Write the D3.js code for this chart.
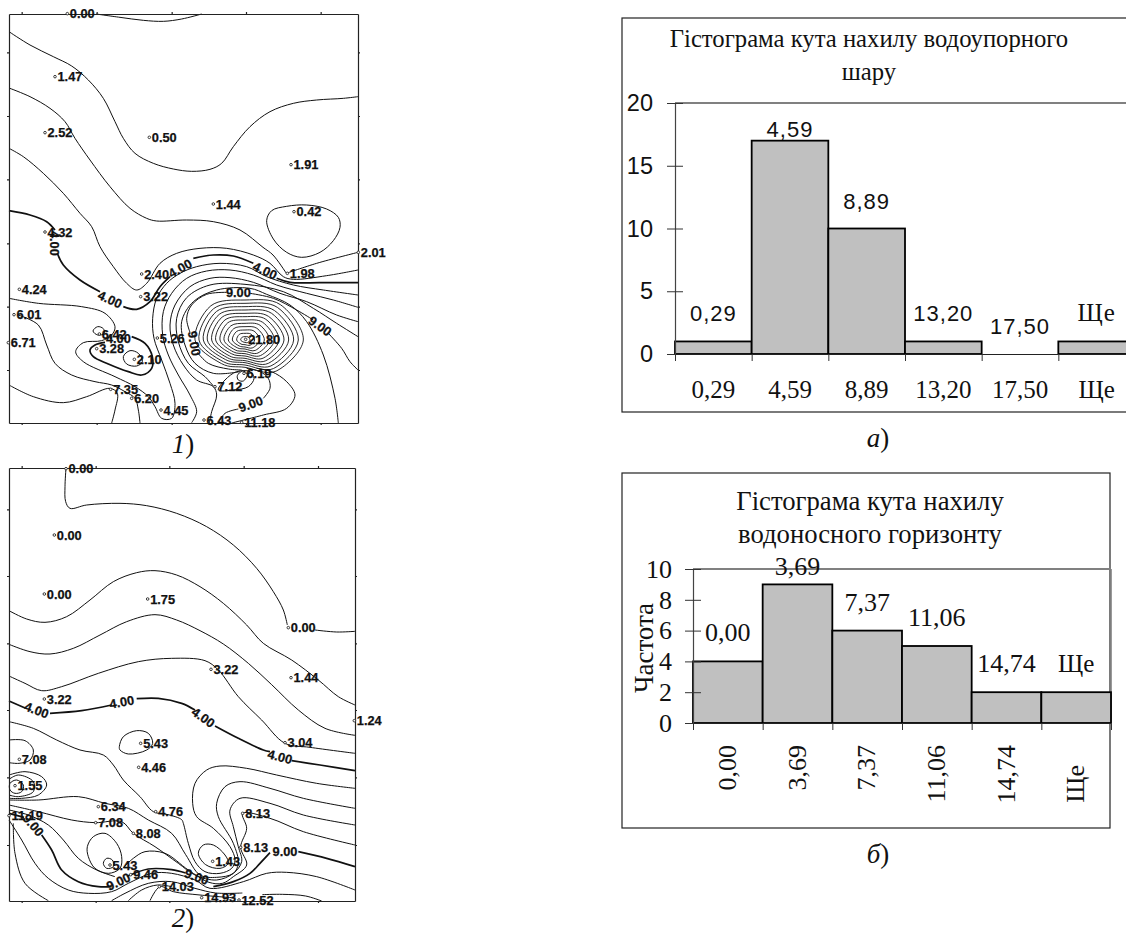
<!DOCTYPE html>
<html lang="en">
<head>
    <meta charset="UTF-8">
    <title>Гістограма</title>
    <script src="https://d3js.org/d3.v7.min.js"></script>
    <style>
        body {margin: 0; background: #fff;}
        svg {display: block;}
        .contour {fill: none; stroke: #111; stroke-width: 1;}
        .bold {stroke-width: 1.7;}
        .maplabel {font-family: "Liberation Sans", sans-serif; font-weight: bold; font-size: 12.8px; fill: #111; stroke: #111; stroke-width: .25px;}
        .serif {font-family: "Liberation Serif", serif; fill: #111;}
        .sans {font-family: "Liberation Sans", sans-serif; fill: #111;}
    </style>
</head>
<body>
<script>
    // map units are arbitrary sheet units, the frame is 1047 x 1227 (map 1) and 1038 x 1299 (map 2)
    const map1Ticks = {x: [38, 263, 488, 711, 935], y: [115, 306, 496, 688, 878, 1068]};
    const map2Ticks = {x: [38, 260, 481, 704, 927], y: [124, 324, 526, 726, 928, 1131]};

    const map1Lines = [
        [[261,0],[333,10],[403,19],[463,22],[518,15],[578,0]],
        [[0,53],[63,93],[133,128],[188,156],[238,198],[283,253],[318,323],[343,373],[378,418],[433,448],[493,465],[548,472],[603,466],[638,448],[673,398],[723,338],[783,293],[853,268],[923,258],[1003,253],[1047,248]],
        [[0,222],[63,248],[123,283],[168,323],[198,373],[243,438],[303,518],[363,583],[413,613],[443,621],[533,618],[613,623],[693,648],[762,700],[792,723],[832,778]],
        [[832,778],[923,748],[1047,715]],
        [[0,403],[43,428],[103,478],[163,538],[213,598],[248,638],[273,698],[313,758],[353,808],[383,828],[413,808],[453,748],[503,718],[573,703],[653,703],[733,723],[783,748],[823,788],[853,796],[953,785],[1047,768]],
        // big line round the 3.28 / 2.10 hollow and over the peak
        [[0,853],[88,868],[218,878],[288,898],[318,938],[308,963],[278,980],[223,986],[200,1013],[223,1043],[318,1088],[378,1118],[418,1148],[438,1178],[458,1213],[488,1213],[498,1168],[483,1108],[458,1038],[435,973],[431,913],[443,853],[473,808],[513,778],[563,758],[633,748],[713,758],[773,788],[853,813],[943,828],[1047,843]],
        [[548,1226],[563,1193],[543,1143],[508,1083],[478,1023],[461,963],[463,893],[488,838],[533,793],[593,771],[663,768],[733,783],[803,813],[893,838],[973,858],[1047,880]],
        [[601,1227],[608,1193],[623,1143],[613,1118],[563,1098],[523,1053],[493,993],[483,933],[498,873],[543,818],[603,793],[663,791],[733,805],[813,838],[893,863],[983,903],[1047,923]],
        [[1047,968],[983,928],[913,883],[823,833],[708,811],[603,813],[533,851],[503,913],[508,983],[538,1048],[588,1088],[613,1116]],
        [[988,1227],[978,1153],[943,1023],[893,923],[843,873],[773,841],[723,823],[623,828],[553,863],[518,923],[528,993],[558,1048],[613,1078],[693,1073]],
        // 9.00 round the peak, broken at its labels
        [[543,955],[533,913],[548,873],[593,841],[653,835]],
        [[723,838],[793,853],[863,888],[913,918]],
        [[958,958],[998,1003],[1023,1043],[1047,1068]],
        [[565,1015],[598,1048],[658,1065],[698,1068]],
        // south of the peak
        [[628,1227],[648,1198],[688,1185]],
        [[763,1153],[783,1123],[778,1093],[753,1073],[713,1063]],
        [[668,1227],[763,1203],[833,1183],[858,1143],[833,1103],[788,1073],[743,1063]],
        // lower left
        [[28,903],[88,933],[113,993],[138,1048],[188,1083],[258,1103],[308,1113],[348,1133],[378,1153],[388,1188],[393,1227]],
        [[0,1113],[73,1148],[163,1166],[233,1148],[303,1123],[325,1138],[318,1188],[308,1227]]
    ];
    const map1Bold = [
        [[0,590],[63,603],[113,623],[138,648]],
        [[145,718],[163,753],[213,798],[273,833]],
        [[343,878],[383,886],[423,863],[453,818],[483,788]],
        [[553,733],[613,723],[673,726],[733,748]],
        [[803,793],[843,805],[933,806],[1047,806]],
        [[368,968],[408,988],[430,1028],[428,1063],[398,1083],[358,1073],[298,1050],[253,1028],[243,1008],[258,993],[288,985]]
    ];
    const map1Closed = [
        [[773,620],[788,590],[833,577],[893,573],[953,585],[988,610],[993,640],[973,680],[933,715],[878,730],[833,715],[793,675]],
        [[252,951],[266,938],[283,944],[286,958],[266,963]],
        [[343,1028],[363,1010],[388,1018],[400,1043],[383,1056],[353,1050]],
        [[685,1085],[701,1071],[715,1081],[703,1101],[688,1098]],
        [[628,1128],[673,1128],[718,1118],[735,1093],[723,1073],[683,1073],[648,1098]]
    ];
    // distances from the 21.80 peak read along N, NE, E, SE, S, SW, W, NW
    const peakCentre = [708, 978];
    const peakRings = [
        [120,150,175,132,82,100,150,145],
        [110,138,160,121,75,92,138,133],
        [100,125,146,110,68,83,125,121],
        [90,113,131,99,62,75,113,109],
        [80,100,117,88,55,67,100,97],
        [70,88,102,77,48,58,88,85],
        [60,75,88,66,41,50,75,73],
        [50,63,73,55,34,42,63,60],
        [40,50,58,44,27,33,50,48],
        [30,38,44,33,21,25,38,36],
        [20,25,29,22,14,17,25,24],
        [10,13,15,11,7,8,13,12]
    ];
    const map1Points = [
        [175,-1,"0.00"],[138,188,"1.47"],[108,356,"2.52"],[421,370,"0.50"],[846,452,"1.91"],[613,570,"1.44"],[855,593,"0.42"],
        [108,654,"4.32"],[398,780,"2.40"],[395,848,"3.22"],[31,826,"4.24"],[15,902,"6.01"],[-2,986,"6.71"],[271,960,"6.42"],
        [263,1004,"3.28"],[376,1036,"2.10"],[445,972,"5.26"],[710,976,"21.80"],[705,1078,"6.19"],[618,1118,"7.12"],
        [305,1126,"7.35"],[368,1153,"6.20"],[456,1188,"4.45"],[585,1218,"6.43"],[698,1225,"11.18"],[835,778,"1.98"],[1048,715,"2.01"]
    ];
    const map1Labels = [
        [303,856,"4.00",25],[513,763,"4.00",-30],[768,770,"4.00",25],[138,688,"4.00",90],[328,973,"4.00",0],
        [688,836,"9.00",0],[933,936,"9.00",35],[556,988,"9.00",80],[725,1170,"9.00",-20]
    ];

    const map2Lines = [
        [[171,0],[168,56],[170,101],[183,121],[233,111],[333,106],[413,113],[503,136],[593,176],[673,231],[743,301],[793,371],[823,426],[835,471]],
        [[918,486],[983,492],[1038,490]],
        [[0,428],[53,453],[108,463],[173,446],[243,396],[313,341],[383,314],[438,308],[503,321],[573,356],[643,406],[713,471],[763,526],[848,576],[928,636],[988,686],[1038,711]],
        [[0,529],[63,551],[123,558],[193,541],[273,501],[353,461],[438,440],[503,456],[573,488],[643,528],[718,586],[788,650],[868,726],[948,781],[1038,802]],
        [[0,624],[48,646],[98,668],[158,656],[268,616],[388,581],[488,571],[588,578],[628,606],[688,686],[758,756],[828,826],[903,838],[1038,856]],
        // lines that dip round the 1.43 hollow
        [[0,761],[73,781],[143,816],[213,846],[283,861],[313,891],[343,936],[393,986],[433,1031],[478,1040],[518,1055],[523,1066],[538,1126],[558,1181],[588,1211],[633,1216],[668,1201],[678,1176],[663,1136],[613,1081],[563,1046],[551,1006],[558,946],[593,906],[633,894],[713,901],[803,921],[923,946],[1038,961]],
        [[0,996],[88,996],[208,986],[288,1006],[358,1021],[418,1056],[488,1096],[530,1160],[573,1221],[623,1228],[673,1216],[688,1186],[673,1126],[628,1046],[623,1006],[648,956],[693,941],[783,961],[883,991],[1038,1021]],
        [[0,1011],[88,1031],[188,1056],[258,1064],[338,1061],[373,1096],[438,1136],[508,1186],[558,1221],[623,1236],[673,1216],[698,1181],[688,1136],[673,1076],[663,1026],[693,991],[783,1006],[883,1041],[1038,1071]],
        [[0,1026],[58,1041],[118,1071],[163,1116],[208,1171],[263,1206],[318,1226]],
        [[342,1200],[373,1171],[408,1151],[468,1156],[538,1206],[600,1243],[640,1246],[673,1226],[713,1191],[695,1138],[713,1081],[701,1036],[783,1051],[883,1091],[1038,1131]],
        [[0,1056],[38,1116],[78,1186],[118,1231],[178,1266],[238,1276],[308,1271],[358,1246],[428,1216],[488,1216],[558,1236],[603,1261],[703,1241],[773,1216],[833,1213],[923,1226],[1038,1266]],
        [[13,1066],[18,1156],[48,1246],[118,1298]],
        [[308,1298],[348,1276],[418,1246],[488,1241],[558,1261],[620,1275],[700,1275]],
        [[358,1298],[398,1266],[445,1251],[488,1256]],
        [[423,1298],[453,1256],[493,1271],[573,1281],[680,1290]],
        [[938,1299],[890,1284],[820,1279],[760,1280]],
        // arcs on the left edge
        [[0,816],[48,818],[73,846],[63,876],[30,886],[0,884]],
        [[0,921],[48,911],[98,926],[113,951],[88,981],[38,991],[0,991]],
        [[0,934],[28,921],[73,941],[73,971],[28,986],[0,981]]
    ];
    const map2Bold = [
        [[0,699],[50,721]],
        [[123,736],[218,728],[308,711]],
        [[383,692],[448,691],[518,706],[558,726]],
        [[618,774],[688,811],[763,846],[783,851]],
        [[848,878],[933,891],[1038,908]],
        [[0,1036],[45,1048]],
        [[98,1101],[128,1146],[158,1206],[208,1241],[268,1256],[308,1256]],
        [[355,1225],[418,1203],[488,1205],[530,1215]],
        [[613,1256],[673,1241],[723,1216],[753,1186],[783,1154]],
        [[868,1151],[953,1171],[1038,1196]]
    ];
    const map2Closed = [
        [[331,836],[343,806],[383,788],[418,796],[431,826],[413,846],[358,858],[333,846]],
        [[235,1136],[253,1106],[288,1096],[323,1126],[338,1166],[333,1201],[298,1216],[258,1201],[238,1166]],
        [[283,1186],[293,1171],[310,1176],[313,1196],[293,1201]],
        [[568,1156],[583,1131],[613,1131],[648,1161],[658,1186],[633,1201],[590,1190]],
        [[3,946],[23,936],[43,951],[38,971],[18,976],[3,966]]
    ];
    const map2Points = [
        [171,2,"0.00"],[136,201,"0.00"],[106,378,"0.00"],[416,393,"1.75"],[838,479,"0.00"],[606,604,"3.22"],[846,629,"1.44"],
        [106,693,"3.22"],[1036,758,"1.24"],[395,826,"5.43"],[31,874,"7.08"],[389,898,"4.46"],[828,824,"3.04"],[18,953,"1.55"],
        [268,1016,"6.34"],[440,1031,"4.76"],[701,1036,"8.13"],[0,1043,"11.19"],[260,1064,"7.08"],[373,1096,"8.08"],
        [695,1138,"8.13"],[303,1191,"5.43"],[611,1180,"1.43"],[365,1220,"9.46"],[451,1256,"14.03"],[578,1289,"14.93"],[690,1296,"12.52"]
    ];
    const map2Labels = [
        [83,726,"4.00",20],[338,702,"4.00",-10],[583,748,"4.00",35],[813,866,"4.00",15],
        [73,1071,"9.00",50],[328,1241,"9.00",-25],[563,1226,"9.00",20],[828,1151,"9.00",0]
    ];

    // histograms
    const binsA = ["0,29", "4,59", "8,89", "13,20", "17,50", "Ще"];
    const countsA = [1, 17, 10, 1, 0, 1];
    const binsB = ["0,00", "3,69", "7,37", "11,06", "14,74", "Ще"];
    const countsB = [4, 9, 6, 5, 2, 2];

    const svg = d3.select("body").append("svg").attr("width", 1126).attr("height", 935);

    function drawMap(box, domain, ticks, lines, bold, closed, points, labels) {
        const x = d3.scaleLinear().domain([0, domain[0]]).range([box.x, box.x + box.w]);
        const y = d3.scaleLinear().domain([0, domain[1]]).range([box.y, box.y + box.h]);
        const g = svg.append("g");
        const open = d3.line().x(d => x(d[0])).y(d => y(d[1])).curve(d3.curveCatmullRom.alpha(0.5));
        const loop = d3.line().x(d => x(d[0])).y(d => y(d[1])).curve(d3.curveCatmullRomClosed.alpha(0.5));

        g.selectAll("path.thin").data(lines).enter().append("path")
                .attr("class", "contour thin").attr("d", open);
        g.selectAll("path.bold").data(bold).enter().append("path")
                .attr("class", "contour bold").attr("d", open);
        g.selectAll("path.loop").data(closed).enter().append("path")
                .attr("class", "contour loop").attr("d", loop);

        // frame and its small ticks
        const axes = [
            [d3.axisTop(x).tickValues(ticks.x), `translate(0,${box.y})`],
            [d3.axisBottom(x).tickValues(ticks.x), `translate(0,${box.y + box.h})`],
            [d3.axisLeft(y).tickValues(ticks.y), `translate(${box.x},0)`],
            [d3.axisRight(y).tickValues(ticks.y), `translate(${box.x + box.w},0)`]
        ];
        axes.forEach(a => {
            const ag = g.append("g").attr("transform", a[1])
                    .call(a[0].tickSize(2).tickSizeOuter(0).tickFormat(""));
            ag.selectAll("path,line").style("stroke", "#222").style("stroke-width", 1.2);
        });

        const pt = g.selectAll("g.pt").data(points).enter().append("g").attr("class", "pt")
                .attr("transform", d => `translate(${x(d[0])},${y(d[1])})`);
        pt.append("circle").attr("r", 1.3).style("fill", "#fff").style("stroke", "#111").style("stroke-width", .8);
        pt.append("text").attr("class", "maplabel").attr("x", 2.5).attr("dy", ".36em").text(d => d[2]);

        g.selectAll("text.cl").data(labels).enter().append("text")
                .attr("class", "maplabel cl")
                .attr("text-anchor", "middle").attr("dy", ".36em")
                .attr("transform", d => `translate(${x(d[0])},${y(d[1])}) rotate(${d[3]})`)
                .text(d => d[2]);
        return {x, y, g};
    }

    const m1 = drawMap({x: 9, y: 14, w: 349, h: 409}, [1047, 1227], map1Ticks, map1Lines, map1Bold, map1Closed, map1Points, map1Labels);
    drawMap({x: 9, y: 468, w: 346, h: 433}, [1038, 1299], map2Ticks, map2Lines, map2Bold, map2Closed, map2Points, map2Labels);

    // peak rings of map 1, radii go through the same sheet scale
    const radius = d3.scaleLinear().domain([0, 1047]).range([0, 349]);
    const ringAngle = d3.scaleLinear().domain([0, 8]).range([0, 2 * Math.PI]);
    const ring = d3.lineRadial().angle((d, i) => ringAngle(i)).radius(d => radius(d)).curve(d3.curveCatmullRomClosed.alpha(0));
    m1.g.append("g").attr("transform", `translate(${m1.x(peakCentre[0])},${m1.y(peakCentre[1])})`)
            .selectAll("path").data(peakRings).enter().append("path")
            .attr("class", "contour").style("stroke-width", .9).attr("d", ring);

    function drawHist(cfg) {
        const {frame, plot, bins, counts, yMax, yTicks} = cfg;
        const g = svg.append("g");
        g.append("rect").attr("x", frame.x).attr("y", frame.y).attr("width", frame.w).attr("height", frame.h)
                .style("fill", "none").style("stroke", "#222").style("stroke-width", 1.2);

        const x = d3.scaleBand().domain(bins).range([plot.x0, plot.x1]);
        const xEdge = d3.scaleLinear().domain([0, bins.length]).range([plot.x0, plot.x1]);
        const y = d3.scaleLinear().domain([0, yMax]).range([plot.y0, plot.y1]);

        // top grid line, grey as in Excel
        g.append("line").attr("x1", plot.x0).attr("x2", plot.x1).attr("y1", y(yMax)).attr("y2", y(yMax))
                .style("stroke", "#808080").style("stroke-width", 1.8);
        if (cfg.rightLine) {
            g.append("line").attr("x1", plot.x1).attr("x2", plot.x1).attr("y1", y(yMax)).attr("y2", y(0))
                    .style("stroke", "#808080").style("stroke-width", 1.6);
        }

        g.selectAll("rect.bar").data(counts).enter().append("rect")
                .attr("class", "bar")
                .attr("display", d => d > 0 ? null : "none")
                .attr("x", (d, i) => x(bins[i]))
                .attr("y", d => y(d)).attr("width", x.bandwidth()).attr("height", d => y(0) - y(d))
                .style("fill", "#c0c0c0").style("stroke", "#000").style("stroke-width", 1.8);

        const yAxis = g.append("g").attr("transform", `translate(${plot.x0},0)`)
                .call(d3.axisLeft(y).tickValues(yTicks).tickSize(0).tickPadding(cfg.yPad));
        yAxis.select("path").style("stroke", "#444").style("stroke-width", 1.2);
        yAxis.selectAll("line").attr("x1", -8).attr("x2", 8).style("stroke", "#333").style("stroke-width", 1);
        yAxis.selectAll("text").attr("class", cfg.yFont.cls).style("font-size", cfg.yFont.size + "px");
        yAxis.attr("font-family", null).attr("font-size", null);

        const edge = g.append("g").attr("transform", `translate(0,${y(0)})`)
                .call(d3.axisBottom(xEdge).tickValues(d3.range(bins.length + 1)).tickSize(7).tickSizeOuter(0).tickFormat(""));
        edge.select("path").style("stroke", "#222").style("stroke-width", 1.2);
        edge.selectAll("line").style("stroke", "#333").style("stroke-width", 1);

        // data labels sit above the bars, clamped under the grid line
        g.selectAll("text.dl").data(counts).enter().append("text")
                .attr("class", (d, i) => "dl " + (bins[i] === "Ще" ? "serif" : cfg.dlFont.cls))
                .attr("text-anchor", "middle")
                .style("font-size", (d, i) => (bins[i] === "Ще" ? 25 : cfg.dlFont.size) + "px")
                .style("letter-spacing", cfg.dlFont.spacing || 0)
                .attr("x", (d, i) => x(bins[i]) + x.bandwidth() / 2)
                .attr("y", d => Math.max(y(d) - 20, cfg.dlMinY))
                .text((d, i) => bins[i]);

        cfg.title.forEach((t, i) => {
            g.append("text").attr("class", "serif").attr("text-anchor", "middle")
                    .attr("x", cfg.titleX).attr("y", cfg.titleY[i])
                    .style("font-size", cfg.titleSize + "px").text(t);
        });
        return {g, x, y};
    }

    const histA = drawHist({
        frame: {x: 622, y: 18, w: 520, h: 394},
        plot: {x0: 675, x1: 1135, y0: 354, y1: 103},
        bins: binsA, counts: countsA, yMax: 20, yTicks: [0, 5, 10, 15, 20], yPad: 22,
        yFont: {cls: "sans", size: 23.5},
        dlFont: {cls: "sans", size: 22, spacing: "1px"}, dlMinY: 137,
        title: ["Гістограма кута нахилу водоупорного", "шару"], titleX: 869, titleY: [47, 80], titleSize: 24.7
    });
    histA.g.selectAll("text.xl").data(binsA).enter().append("text")
            .attr("class", "serif xl").attr("text-anchor", "middle").style("font-size", "25px")
            .attr("x", d => histA.x(d) + histA.x.bandwidth() / 2).attr("y", 398).text(d => d);

    const histB = drawHist({
        frame: {x: 622, y: 473, w: 488, h: 355},
        plot: {x0: 693, x1: 1111, y0: 723, y1: 569}, rightLine: true,
        bins: binsB, counts: countsB, yMax: 10, yTicks: [0, 2, 4, 6, 8, 10], yPad: 21,
        yFont: {cls: "serif", size: 26},
        dlFont: {cls: "serif", size: 26}, dlMinY: 575,
        title: ["Гістограма кута нахилу", "водоносного горизонту"], titleX: 870, titleY: [510, 543], titleSize: 26.7
    });
    histB.g.selectAll("text.xl").data(binsB).enter().append("text")
            .attr("class", "serif xl").attr("text-anchor", "end").style("font-size", "26px")
            .attr("transform", d => `translate(${histB.x(d) + histB.x.bandwidth() / 2 + 8},${d === "Ще" ? 765 : 745}) rotate(-90)`)
            .text(d => d);
    histB.g.append("text").attr("class", "serif").attr("text-anchor", "middle").style("font-size", "27px")
            .attr("transform", "translate(653,648) rotate(-90)").text("Частота");

    // captions
    const captions = [[183, 453, "1"], [183, 927, "2"], [878, 447, "а"], [878, 863, "б"]];
    captions.forEach(c => {
        const t = svg.append("text").attr("class", "serif").attr("text-anchor", "middle")
                .attr("x", c[0]).attr("y", c[1]).style("font-size", "27px");
        t.append("tspan").style("font-style", "italic").text(c[2]);
        t.append("tspan").text(")");
    });
</script>
</body>
</html>
